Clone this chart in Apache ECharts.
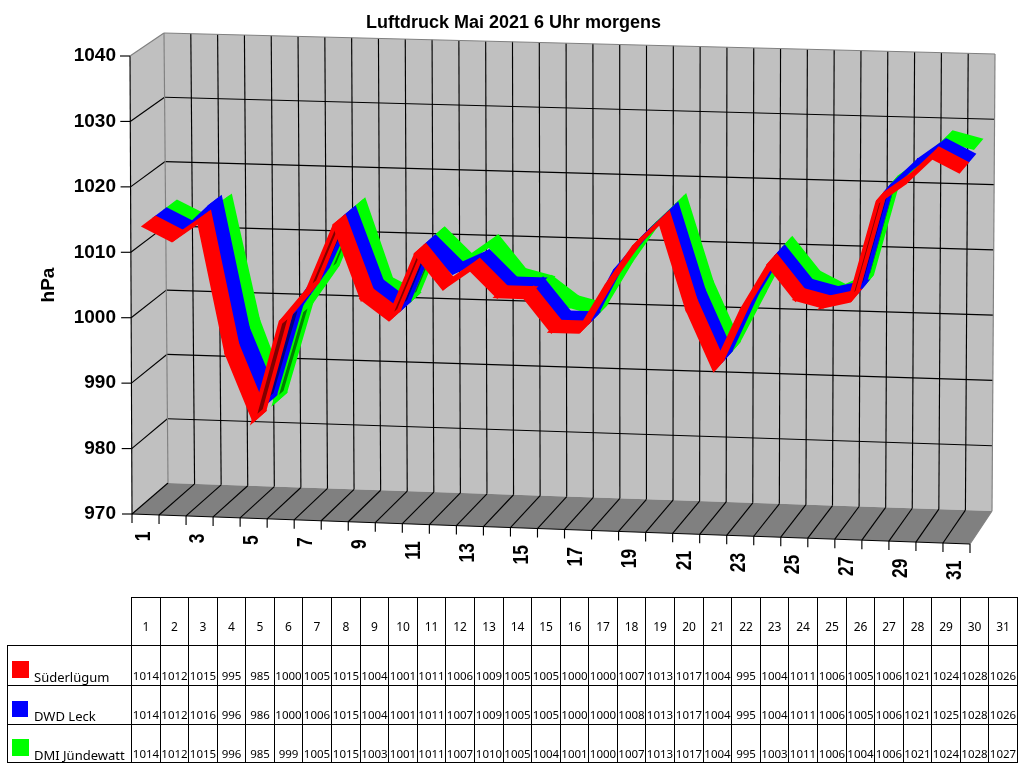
<!DOCTYPE html>
<html>
<head>
<meta charset="utf-8">
<script src="https://cdn.jsdelivr.net/npm/echarts@6/dist/echarts.min.js"></script>
<style>html,body{margin:0;padding:0;background:#fff}#chart{width:1024px;height:768px}</style>
</head>
<body>
<div id="chart"></div>
<script>
// Morning pressure readings for May 2021, hPa, one list per station.
const days = ['1','2','3','4','5','6','7','8','9','10','11','12','13','14','15','16','17','18','19','20','21','22','23','24','25','26','27','28','29','30','31'];
const suederluegum = [1014,1012,1015,995,985,1000,1005,1015,1004,1001,1011,1006,1009,1005,1005,1000,1000,1007,1013,1017,1004,995,1004,1011,1006,1005,1006,1021,1024,1028,1026];
const dwdLeck = [1014,1012,1016,996,986,1000,1006,1015,1004,1001,1011,1007,1009,1005,1005,1000,1000,1008,1013,1017,1004,995,1004,1011,1006,1005,1006,1021,1025,1028,1026];
const dmiJuendewatt = [1014,1012,1015,996,985,999,1005,1015,1003,1001,1011,1007,1010,1005,1004,1001,1000,1007,1013,1017,1004,995,1003,1011,1006,1004,1006,1021,1024,1028,1027];
const stationNames = ['Süderlügum','DWD Leck','DMI Jündewatt'];
const pressureTicks = [970,980,990,1000,1010,1020,1030,1040];

// Box corners of the oblique room: front and back planes, bottom and top.
const F00=[132,514], F01=[130,56], F10=[970,544], F11=[973,79];
const B00=[168,483], B01=[164,33], B10=[992,511], B11=[995,54];

function mix(a,b,t){return [a[0]+(b[0]-a[0])*t, a[1]+(b[1]-a[1])*t];}
function project(u,v,d){
  const front = mix(mix(F00,F10,u), mix(F01,F11,u), v);
  const back  = mix(mix(B00,B10,u), mix(B01,B11,u), v);
  return mix(front,back,d);
}
// Translate a point of the flat cartesian grid into the room.
function toRoom(pt,sys,d){
  return project((pt[0]-sys.x)/sys.width, (sys.y+sys.height-pt[1])/sys.height, d);
}
function seg(a,b,color,width){
  return {type:'line',silent:true,shape:{x1:a[0],y1:a[1],x2:b[0],y2:b[1]},style:{stroke:color,lineWidth:width||1.15}};
}
function poly(pts,fill){
  return {type:'polygon',silent:true,shape:{points:pts},style:{fill:fill}};
}

function renderRoom(params,api){
  const sys = params.coordSys;
  const n = days.length;
  const kids = [
    poly([B00,B10,B11,B01],'#C0C0C0'),
    poly([F00,F01,B01,B00],'#C0C0C0'),
    poly([F00,F10,B10,B00],'#808080')
  ];
  // Day grid on the back wall and floor, with ticks under the front edge.
  for(let i=0;i<=n;i++){
    const u=i/n;
    if(i>0&&i<n) kids.push(seg(project(u,0,1),project(u,1,1),'#000'));
    if(i<n) kids.push(seg(project(u,0,0),project(u,0,1),'#000'));
    const f=project(u,0,0);
    kids.push(seg(f,[f[0],f[1]+9],'#000'));
  }
  // Pressure grid on the back and left walls, with ticks left of the axis.
  const lastTick=pressureTicks[pressureTicks.length-1];
  pressureTicks.forEach(function(p){
    const y=api.coord([0,p])[1];
    const v=(sys.y+sys.height-y)/sys.height;
    if(p>pressureTicks[0]&&p<lastTick){
      kids.push(seg(project(0,v,1),project(1,v,1),'#000'));
      kids.push(seg(project(0,v,0),project(0,v,1),'#000'));
    }
    const f=project(0,v,0);
    kids.push(seg([f[0]-10,f[1]],f,'#000'));
  });
  kids.push(seg(F00,F01,'#000'));
  kids.push(seg(F00,F10,'#000'));
  kids.push(seg(B01,B00,'#808080'));
  kids.push(seg(F01,B01,'#808080'));
  kids.push(seg(B01,B11,'#808080'));
  kids.push(seg(B11,B10,'#808080'));
  kids.push(seg(B10,F10,'#808080'));
  // Every second day is labelled, reading upward beneath the floor.
  days.forEach(function(label,i){
    if(i%2) return;
    const c=api.coord([i,970]);
    const p=toRoom(c,sys,0);
    kids.push({type:'text',silent:true,x:p[0]-1.5,y:p[1]+17,rotation:Math.PI/2,scaleX:0.92,scaleY:1.12,
      style:{text:label,font:'bold 19px "Liberation Sans"',fill:'#000',align:'right',verticalAlign:'middle'}});
  });
  return {type:'group',children:kids};
}

// Each station occupies one lane of the room's depth; a quad joins two days.
function ribbon(values,near,far,color,dark){
  return function(params,api){
    const i=api.value(0);
    if(i>=values.length-1) return null;
    const sys=params.coordSys;
    const a=api.coord([i,values[i]]), b=api.coord([i+1,values[i+1]]);
    const pts=[toRoom(a,sys,near),toRoom(b,sys,near),toRoom(b,sys,far),toRoom(a,sys,far)];
    const area=(pts[1][0]-pts[0][0])*(pts[3][1]-pts[0][1])-(pts[1][1]-pts[0][1])*(pts[3][0]-pts[0][0]);
    return {type:'polygon',silent:true,shape:{points:pts},
      style:{fill:area>0?dark:color,stroke:color,lineWidth:4,lineJoin:'miter',miterLimit:4}};
  };
}
function ribbonSeries(name,values,near,far,color,dark){
  return {type:'custom',name:name,coordinateSystem:'cartesian2d',silent:true,animation:false,
    encode:{x:0,y:1},data:values.map(function(v,i){return [i,v];}),
    renderItem:ribbon(values,near,far,color,dark)};
}

// Data table below the plot, with colour keys in the first column.
function buildTable(){
  const colors=['#FF0000','#0000FF','#00FF00'];
  const rows=[suederluegum,dwdLeck,dmiJuendewatt];
  const left=131, cell=28.58, legendLeft=7;
  const top=597, headBottom=645, rowBottoms=[685,724,762];
  const colX=function(i){return Math.round(left+i*cell);};
  const out=[];
  const hline=function(x1,x2,y){out.push({type:'rect',silent:true,shape:{x:x1,y:y,width:x2-x1+1,height:1},style:{fill:'#000'}});};
  const vline=function(x,y1,y2){out.push({type:'rect',silent:true,shape:{x:x,y:y1,width:1,height:y2-y1+1},style:{fill:'#000'}});};
  hline(left,colX(days.length),top);
  hline(legendLeft,colX(days.length),headBottom);
  rowBottoms.forEach(function(y){hline(legendLeft,colX(days.length),y);});
  vline(legendLeft,headBottom,rowBottoms[2]);
  for(let i=0;i<=days.length;i++) vline(colX(i),top,rowBottoms[2]);
  const txt=function(s,x,y,align,size){
    out.push({type:'text',silent:true,x:x,y:y,style:{text:s,font:size+'px "Noto Sans"',fill:'#000',align:align,verticalAlign:'middle'}});
  };
  days.forEach(function(d,i){
    const cx=(colX(i)+colX(i+1))/2+0.5;
    txt(d,cx,628,'center',12);
    rows.forEach(function(r,j){txt(String(r[i]),cx,677+j*39,'center',11.5);});
  });
  const keyTops=[661,701,739];
  stationNames.forEach(function(name,j){
    out.push({type:'rect',silent:true,shape:{x:12,y:keyTops[j],width:j===1?16:17,height:j===1?16:17},style:{fill:colors[j]}});
    txt(name,34,678+j*39,'left',13);
  });
  return out;
}

const chart=echarts.init(document.getElementById('chart'),null,{renderer:'canvas',width:1024,height:768});
chart.setOption({
  animation:false,
  backgroundColor:'#fff',
  title:{text:'Luftdruck Mai 2021 6 Uhr morgens',left:508.5,top:9,textAlign:'center',
    textStyle:{fontFamily:'Liberation Sans',fontWeight:'bold',fontSize:18,color:'#000'}},
  grid:{left:132,top:56,width:838,height:458,containLabel:false},
  xAxis:{type:'category',data:days,show:false,boundaryGap:true},
  yAxis:{type:'value',min:970,max:1040,interval:10,
    name:'hPa',nameLocation:'middle',nameGap:74,nameRotate:90,
    nameTextStyle:{fontFamily:'Liberation Sans',fontWeight:'bold',fontSize:19,color:'#000'},
    axisLine:{show:false},axisTick:{show:false},splitLine:{show:false},
    axisLabel:{margin:16,fontFamily:'Liberation Sans',fontWeight:'bold',fontSize:19,color:'#000',
      formatter:function(v){return String(v);}}},
  graphic:{elements:buildTable()},
  series:[
    {type:'custom',name:'Raum',coordinateSystem:'cartesian2d',silent:true,animation:false,
      encode:{x:0,y:1},data:[[0,970]],renderItem:renderRoom},
    ribbonSeries(stationNames[2],dmiJuendewatt,0.65,0.95,'#00FF00','#008000'),
    ribbonSeries(stationNames[1],dwdLeck,0.33,0.65,'#0000FF','#000080'),
    ribbonSeries(stationNames[0],suederluegum,0.01,0.33,'#FF0000','#800000')
  ]
});
</script>
</body>
</html>
